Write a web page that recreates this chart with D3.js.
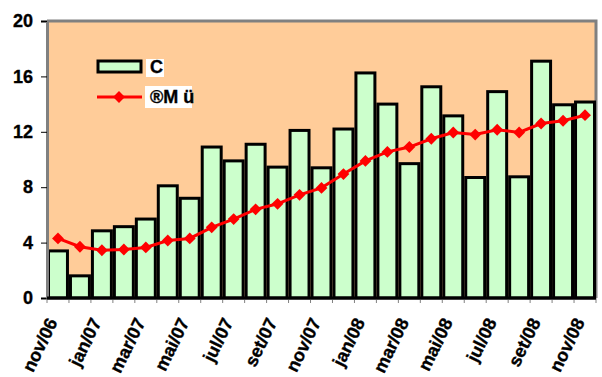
<!DOCTYPE html>
<html>
<head>
<meta charset="utf-8">
<script src="https://cdn.jsdelivr.net/npm/d3@7/dist/d3.min.js"></script>
<style>
  html, body { margin: 0; padding: 0; background: #fff; }
  svg { display: block; font-family: "Liberation Sans", Arial, sans-serif; font-weight: bold; }
  svg text { stroke: #000; stroke-width: 0.35px; }
</style>
</head>
<body>
<svg id="chart" width="602" height="377"></svg>
<script>
// Months, Nov 2006 – Nov 2008
const months = ["nov/06","dez/06","jan/07","fev/07","mar/07","abr/07","mai/07","jun/07",
  "jul/07","ago/07","set/07","out/07","nov/07","dez/07","jan/08","fev/08",
  "mar/08","abr/08","mai/08","jun/08","jul/08","ago/08","set/08","out/08","nov/08"];

// Monthly values (bars)
const barValues = [3.4, 1.6, 4.85, 5.15, 5.7, 8.1, 7.2, 10.9, 9.9, 11.1, 9.45, 12.1, 9.4,
  12.2, 16.25, 14.0, 9.7, 15.25, 13.15, 8.7, 14.9, 8.75, 17.1, 13.95, 14.15];

// Trend series (line with diamond markers)
const lineValues = [4.3, 3.7, 3.45, 3.5, 3.65, 4.15, 4.3, 5.1, 5.7, 6.4, 6.8, 7.45, 7.95,
  8.95, 9.9, 10.55, 10.9, 11.5, 11.95, 11.8, 12.15, 11.95, 12.6, 12.8, 13.2];

const yTicks = [0, 4, 8, 12, 16, 20];
const legendLabels = ["C", "®M ü"];

const svg = d3.select("#chart");
const plotL = 47, plotR = 596, plotT = 21, plotB = 298;

const x = d3.scaleBand().domain(months).range([plotL, plotR]).padding(0);
const y = d3.scaleLinear().domain([0, 20]).range([plotB, plotT]);

// plot background
svg.append("rect")
  .attr("x", plotL).attr("y", plotT)
  .attr("width", plotR - plotL).attr("height", plotB - plotT)
  .attr("fill", "#FFCC99");

// top and right frame
svg.append("path")
  .attr("d", `M${plotL},${plotT} H${plotR} V${plotB}`)
  .attr("fill", "none").attr("stroke", "#808080").attr("stroke-width", 3);

// bars
svg.append("g").selectAll("rect").data(barValues).join("rect")
  .attr("x", (d, i) => x(months[i]) + 1.5)
  .attr("width", x.bandwidth() - 3)
  .attr("y", d => y(d))
  .attr("height", d => plotB - y(d))
  .attr("fill", "#CCFFCC")
  .attr("stroke", "#000").attr("stroke-width", 3);

// y axis
const yAxis = d3.axisLeft(y).tickValues(yTicks).tickSize(6).tickPadding(8);
const gy = svg.append("g").attr("transform", `translate(${plotL},0)`).call(yAxis);
gy.select(".domain").attr("stroke", "#808080").attr("stroke-width", 3);
gy.selectAll(".tick line").attr("stroke", "#000").attr("stroke-width", 1);
gy.selectAll(".tick text")
  .attr("fill", "#000")
  .style("font-size", "18px").style("font-weight", "bold")
  .style("font-family", "'Liberation Sans', Arial, sans-serif");

// x axis ticks at band edges
const edges = months.map(m => x(m)).concat([plotR]);
svg.append("g").selectAll("line").data(edges).join("line")
  .attr("x1", d => d).attr("x2", d => d)
  .attr("y1", plotB).attr("y2", plotB + 5)
  .attr("stroke", "#808080").attr("stroke-width", 1);
svg.append("line")
  .attr("x1", plotL).attr("x2", plotR)
  .attr("y1", plotB).attr("y2", plotB)
  .attr("stroke", "#000").attr("stroke-width", 3);

// x labels, every other month
svg.append("g").selectAll("text")
  .data(months.filter((m, i) => i % 2 === 0)).join("text")
  .attr("transform", d => `translate(${x(d) + x.bandwidth() / 2},${plotB + 24}) rotate(-64)`)
  .attr("text-anchor", "end")
  .style("font-size", "18px")
  .text(d => d);

// line series
const cx = i => x(months[i]) + x.bandwidth() / 2;
const line = d3.line().x((d, i) => cx(i)).y(d => y(d));
svg.append("path").datum(lineValues)
  .attr("d", line)
  .attr("fill", "none").attr("stroke", "#FF0000").attr("stroke-width", 3);

const diamond = d3.symbol().type(d3.symbolSquare).size(70);
svg.append("g").selectAll("path").data(lineValues).join("path")
  .attr("transform", (d, i) => `translate(${cx(i)},${y(d)}) rotate(45)`)
  .attr("d", diamond)
  .attr("fill", "#FF0000");

// legend
const lg = svg.append("g");
lg.append("rect").attr("x", 98).attr("y", 61).attr("width", 43).attr("height", 11)
  .attr("fill", "#CCFFCC").attr("stroke", "#000").attr("stroke-width", 3);
lg.append("rect").attr("x", 146).attr("y", 59).attr("width", 18).attr("height", 18).attr("fill", "#fff");
lg.append("text").attr("x", 150).attr("y", 73).style("font-size", "18px").text(legendLabels[0]);

lg.append("line").attr("x1", 97).attr("x2", 142).attr("y1", 97).attr("y2", 97)
  .attr("stroke", "#FF0000").attr("stroke-width", 3);
lg.append("path").attr("transform", "translate(119,97) rotate(45)").attr("d", diamond).attr("fill", "#FF0000");
lg.append("rect").attr("x", 145).attr("y", 86).attr("width", 47).attr("height", 22).attr("fill", "#fff");
lg.append("text").attr("x", 150).attr("y", 103).style("font-size", "18px").text(legendLabels[1]);
</script>
</body>
</html>
